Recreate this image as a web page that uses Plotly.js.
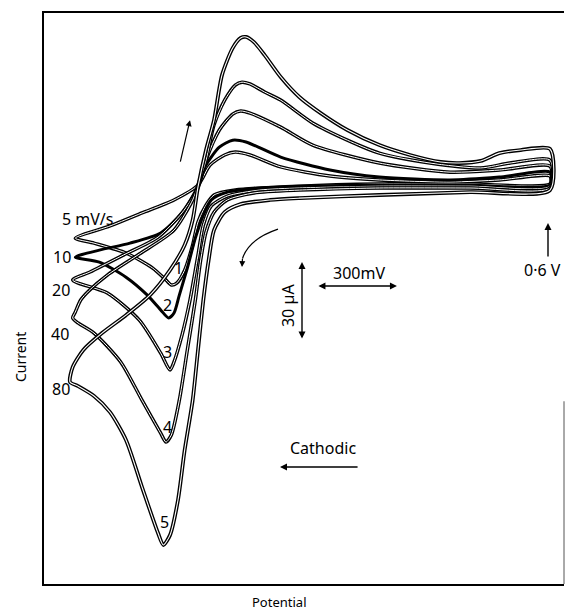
<!DOCTYPE html>
<html>
<head>
<meta charset="utf-8">
<script src="https://cdn.plot.ly/plotly-3.0.1.min.js"></script>
<style>html,body{margin:0;padding:0;background:#fff;}#chart{width:565px;height:613px;}</style>
</head>
<body>
<div id="chart"></div>
<script>
// Scan-rate labels (mV/s) and peak numbers
var scanRates = ["5 mV/s", "10", "20", "40", "80"];
var peakNumbers = ["1", "2", "3", "4", "5"];

// Potential (V) and current (µA) for each cyclic voltammogram loop
var v5  = [0.60,0.60,0.30,-0.04,-0.34,-0.58,-0.66,-0.69,-0.72,-0.74,-0.77,-0.80,-0.82,-0.84,-0.89,-0.99,-1.11,-1.18,-1.05,-0.93,-0.81,-0.72,-0.675,-0.62,-0.58,-0.525,-0.41,-0.225,-0.04,0.225,0.41,0.60];
var i5  = [2.7,-0.4,-0.4,-0.4,-1.2,-2.7,-4.6,-8.5,-15.0,-23.8,-33.5,-38.5,-39.2,-37.3,-32.7,-26.9,-23.1,-21.2,-16.5,-11.5,-6.5,-0.8,6.9,10.8,11.9,10.8,6.2,2.7,1.2,0.4,1.2,2.7];

var v10 = [0.60,0.60,0.30,-0.04,-0.34,-0.49,-0.61,-0.67,-0.70,-0.73,-0.76,-0.79,-0.81,-0.83,-0.86,-0.91,-0.99,-1.09,-1.18,-1.09,-0.975,-0.86,-0.78,-0.72,-0.69,-0.64,-0.59,-0.54,-0.41,-0.225,-0.04,0.225,0.41,0.60];
var i10 = [4.2,-0.8,-0.8,-0.8,-1.2,-1.9,-3.5,-6.5,-12.3,-21.2,-32.7,-43.1,-50.0,-51.9,-48.8,-43.1,-36.2,-30.4,-28.5,-25.8,-23.1,-19.2,-11.5,-1.2,6.9,13.8,16.5,15.8,10.0,5.0,2.3,1.2,2.3,4.2];

var v20 = [0.60,0.60,0.30,-0.04,-0.34,-0.49,-0.61,-0.67,-0.70,-0.72,-0.75,-0.78,-0.81,-0.825,-0.86,-0.94,-1.06,-1.19,-1.125,-1.00,-0.87,-0.78,-0.72,-0.69,-0.64,-0.59,-0.56,-0.525,-0.41,-0.29,-0.04,0.225,0.41,0.60];
var i20 = [6.5,-1.2,-1.2,-1.2,-1.9,-2.7,-5.0,-8.8,-16.2,-27.7,-45.0,-58.5,-68.8,-71.9,-65.4,-52.7,-42.3,-37.3,-34.2,-27.7,-20.8,-11.5,-1.9,8.8,20.4,26.5,27.7,26.9,21.5,14.6,7.7,4.2,5.0,6.5];

var v40 = [0.60,0.60,0.30,-0.04,-0.34,-0.51,-0.61,-0.66,-0.69,-0.71,-0.73,-0.76,-0.79,-0.82,-0.84,-0.86,-0.93,-1.01,-1.11,-1.17,-1.19,-1.18,-1.16,-1.13,-1.06,-0.94,-0.81,-0.74,-0.72,-0.69,-0.66,-0.62,-0.58,-0.555,-0.525,-0.47,-0.41,-0.29,-0.16,-0.04,0.15,0.34,0.45,0.60];
var i40 = [8.8,-1.9,-1.9,-1.9,-2.7,-3.8,-6.5,-11.2,-18.8,-29.6,-45.0,-64.2,-83.5,-96.9,-99.6,-96.2,-83.5,-68.8,-57.7,-53.8,-51.9,-49.6,-45.0,-41.5,-35.4,-27.3,-18.1,-6.5,-0.8,8.8,22.3,31.9,37.7,38.8,38.1,35.0,31.9,23.1,16.5,11.5,7.7,5.8,7.7,8.8];

var v80 = [0.60,0.60,0.30,-0.04,-0.34,-0.45,-0.56,-0.62,-0.66,-0.68,-0.70,-0.72,-0.74,-0.77,-0.795,-0.825,-0.85,-0.87,-0.93,-0.99,-1.05,-1.11,-1.17,-1.20,-1.19,-1.15,-1.08,-0.99,-0.90,-0.825,-0.77,-0.74,-0.72,-0.69,-0.66,-0.63,-0.59,-0.56,-0.54,-0.51,-0.47,-0.41,-0.34,-0.26,-0.16,-0.04,0.075,0.19,0.26,0.34,0.41,0.49,0.60];
var i80 = [13.1,-2.7,-3.5,-4.6,-5.8,-6.5,-8.1,-11.2,-18.1,-29.6,-45.0,-64.2,-83.5,-102.7,-121.9,-135.4,-139.2,-134.6,-116.9,-98.8,-88.1,-81.9,-78.1,-76.5,-70.8,-64.2,-57.7,-50.8,-43.1,-33.5,-23.8,-14.2,-1.5,12.7,24.2,41.5,51.9,55.8,56.2,54.2,49.2,40.8,33.1,26.9,20.4,14.6,10.8,8.1,7.7,8.5,11.5,12.7,13.1];

var loopsV = [v5, v10, v20, v40, v80];
var loopsI = [i5, i10, i20, i40, i80];

// Label anchor values (V, µA)
var rateLabelV = [-1.1625, -1.23, -1.234, -1.2375, -1.234];
var rateLabelI = [-13.8, -28.5, -41.2, -58.1, -79.2];
var peakLabelV = [-0.792, -0.836, -0.836, -0.836, -0.844];
var peakLabelI = [-32.7, -46.9, -65.0, -93.8, -130.4];

var traces = [];
var styles = [
  {outer: 3.5, inner: 1.0},
  {outer: 3.0, inner: 0},
  {outer: 3.5, inner: 1.0},
  {outer: 3.5, inner: 1.0},
  {outer: 3.8, inner: 1.1}
];
for (var k = 0; k < loopsV.length; k++) {
  traces.push({
    x: loopsV[k], y: loopsI[k], type: 'scatter', mode: 'lines',
    name: scanRates[k],
    line: {color: '#000', width: styles[k].outer, shape: 'spline', smoothing: 0.7},
    hoverinfo: 'skip', showlegend: false
  });
  if (styles[k].inner > 0) {
    traces.push({
      x: loopsV[k], y: loopsI[k], type: 'scatter', mode: 'lines',
      line: {color: '#fff', width: styles[k].inner, shape: 'spline', smoothing: 0.7},
      hoverinfo: 'skip', showlegend: false
    });
  }
}

var font = {family: 'Noto Sans, DejaVu Sans, sans-serif', color: '#000', size: 16};
var ann = [];
for (var r = 0; r < scanRates.length; r++) {
  ann.push({x: rateLabelV[r], y: rateLabelI[r], xref: 'x', yref: 'y', text: scanRates[r],
    showarrow: false, font: font, xanchor: r === 0 ? 'left' : 'center', xshift: r === 0 ? -20 : 0});
}
for (var p = 0; p < peakNumbers.length; p++) {
  ann.push({x: peakLabelV[p], y: peakLabelI[p], xref: 'x', yref: 'y', text: peakNumbers[p],
    showarrow: false, font: font});
}
// scale bars and direction arrows
var arrowStyle = {showarrow: true, arrowhead: 2, arrowsize: 1, arrowwidth: 1.4, arrowcolor: '#000',
  xref: 'x', yref: 'y', axref: 'x', ayref: 'y', text: ''};
function arrow(o) { var a = {}; for (var key in arrowStyle) a[key] = arrowStyle[key]; for (var key2 in o) a[key2] = o[key2]; return a; }
ann.push(arrow({x: -0.33, y: -30.4, ax: -0.33, ay: -60.4, arrowside: 'end+start'}));
ann.push(arrow({x: 0.026, y: -39.6, ax: -0.274, ay: -39.6, arrowside: 'end+start'}));
ann.push(arrow({x: 0.5925, y: -15.4, ax: 0.5925, ay: -28.8}));
ann.push(arrow({x: -0.4125, y: -109.2, ax: -0.116, ay: -109.2}));
ann.push(arrow({x: -0.75, y: 24.2, ax: -0.7875, ay: 7.7, arrowwidth: 1.2}));
ann.push(arrow({x: -0.555, y: -32.3, ax: -0.553, ay: -28.5, arrowwidth: 1.2}));
ann.push({x: -0.3825, y: -47.3, xref: 'x', yref: 'y', text: '30 µA', textangle: -90, showarrow: false, font: font});
ann.push({x: -0.116, y: -34.6, xref: 'x', yref: 'y', text: '300mV', showarrow: false, font: font});
ann.push({x: 0.57, y: -33.5, xref: 'x', yref: 'y', text: '0·6 V', showarrow: false, font: font});
ann.push({x: -0.251, y: -101.9, xref: 'x', yref: 'y', text: 'Cathodic', showarrow: false, font: font});
// axis titles
ann.push({x: -0.046, y: 0.3975, xref: 'paper', yref: 'paper', text: 'Current', textangle: -90,
  xanchor: 'center', yanchor: 'middle', showarrow: false, font: {family: font.family, size: 14, color: '#000'}});
ann.push({x: 0.452, y: -0.031, xref: 'paper', yref: 'paper', text: 'Potential',
  xanchor: 'center', yanchor: 'middle', borderpad: 0, showarrow: false, font: {family: font.family, size: 13, color: '#000'}});

var layout = {
  width: 565, height: 613,
  margin: {l: 44, r: 1, t: 13, b: 29},
  paper_bgcolor: '#fff', plot_bgcolor: '#fff',
  showlegend: false,
  xaxis: {range: [-1.2975, 0.6525], showgrid: false, zeroline: false, showticklabels: false,
    ticks: '', showline: true, mirror: true, linecolor: '#000', linewidth: 1.6},
  yaxis: {range: [-154.2, 65.4], showgrid: false, zeroline: false, showticklabels: false,
    ticks: '', showline: true, mirror: false, linecolor: '#000', linewidth: 1.6},
  shapes: [
    {type: 'line', xref: 'paper', yref: 'paper', x0: 1, x1: 1, y0: 0, y1: 0.32,
      line: {color: '#555', width: 1}},
    {type: 'path', xref: 'x', yref: 'y', path: 'M -0.42,-17.7 Q -0.53,-21.5 -0.553,-29',
      line: {color: '#000', width: 1.2}}
  ],
  annotations: ann
};
Plotly.newPlot('chart', traces, layout, {displayModeBar: false, staticPlot: true});
</script>
</body>
</html>
